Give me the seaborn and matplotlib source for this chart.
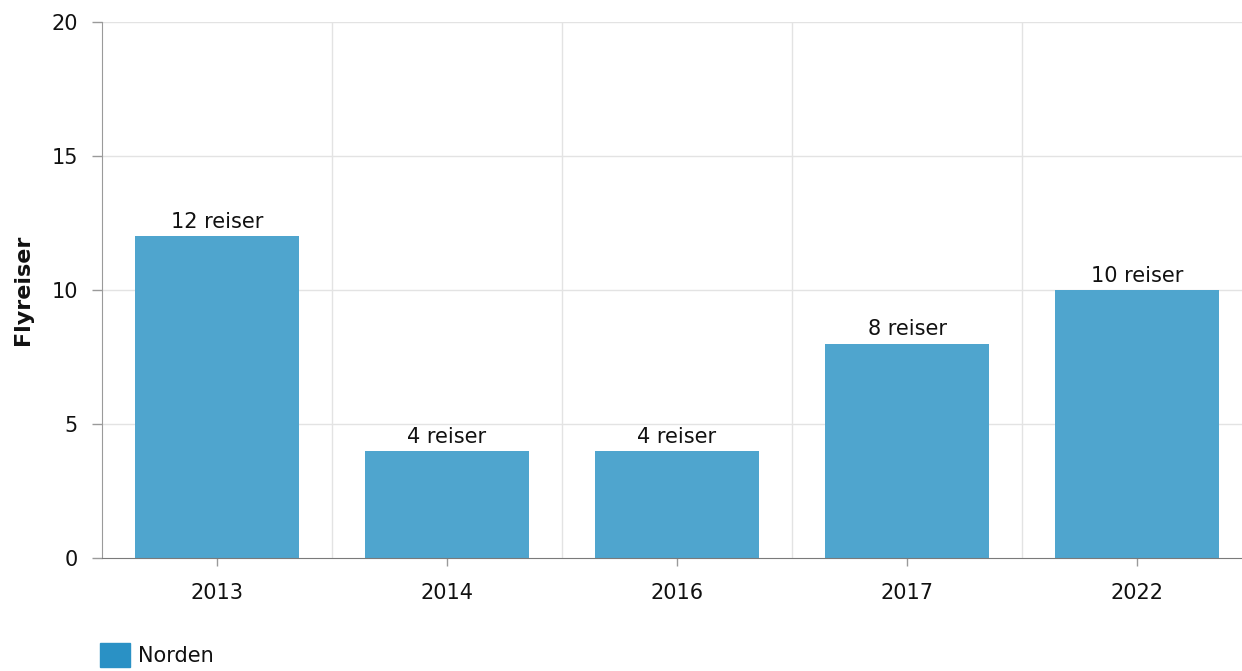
import matplotlib
matplotlib.use("Agg")
import matplotlib.pyplot as plt
import seaborn as sns
import pandas as pd
from matplotlib.patches import Patch

# Data
years = ["2013", "2014", "2016", "2017", "2022"]
trips = [12, 4, 4, 8, 10]
series_name = "Norden"

df = pd.DataFrame({"År": years, "Flyreiser": trips})

sns.set_style("white")
plt.rcParams["font.family"] = ["DejaVu Sans"]

fig = plt.figure(figsize=(12.42, 6.71), dpi=100)
# plot area runs past the right edge of the figure, as in the original
ax = fig.add_axes([0.0821, 0.1684, 0.926, 0.7988])

sns.barplot(data=df, x="År", y="Flyreiser", color="#4FA5CE", width=0.71,
            saturation=1, linewidth=0, ax=ax, zorder=2)

ax.set_ylim(0, 20)
ax.set_xlim(-0.5, len(years) - 0.5)
ax.set_yticks([0, 5, 10, 15, 20])

# grid
for y in [5, 10, 15, 20]:
    ax.axhline(y, color="#e3e3e3", lw=1, zorder=0)
for x in range(1, len(years)):
    ax.axvline(x - 0.5, color="#e3e3e3", lw=1, zorder=0)

for s in ["top", "right"]:
    ax.spines[s].set_visible(False)
ax.spines["left"].set_color("#9a9a9a")
ax.spines["bottom"].set_color("#7a7a7a")
ax.spines["bottom"].set_zorder(3)

ax.tick_params(axis="y", left=True, length=7.2, width=1, color="#9a9a9a",
               labelsize=15, pad=10, labelcolor="#111111")
ax.tick_params(axis="x", bottom=True, length=5.8, width=1, color="#9a9a9a",
               labelsize=15, pad=12, labelcolor="#111111")

ax.set_xlabel("")
ax.set_ylabel("Flyreiser", fontsize=16, fontweight="bold", color="#111111")
ax.yaxis.set_label_coords(-0.06, 0.5)

ax.bar_label(ax.containers[0], labels=[f"{v} reiser" for v in trips],
             padding=3, fontsize=15, color="#111111")

fig.legend(handles=[Patch(color="#2A91C5")], labels=[series_name],
           loc="upper left", bbox_to_anchor=(0.0805, 0.042), frameon=False,
           fontsize=15, borderpad=0, borderaxespad=0,
           handlelength=1.44, handleheight=1.4, handletextpad=0.38,
           labelcolor="#111111")

fig.savefig("out.png", dpi=100)
